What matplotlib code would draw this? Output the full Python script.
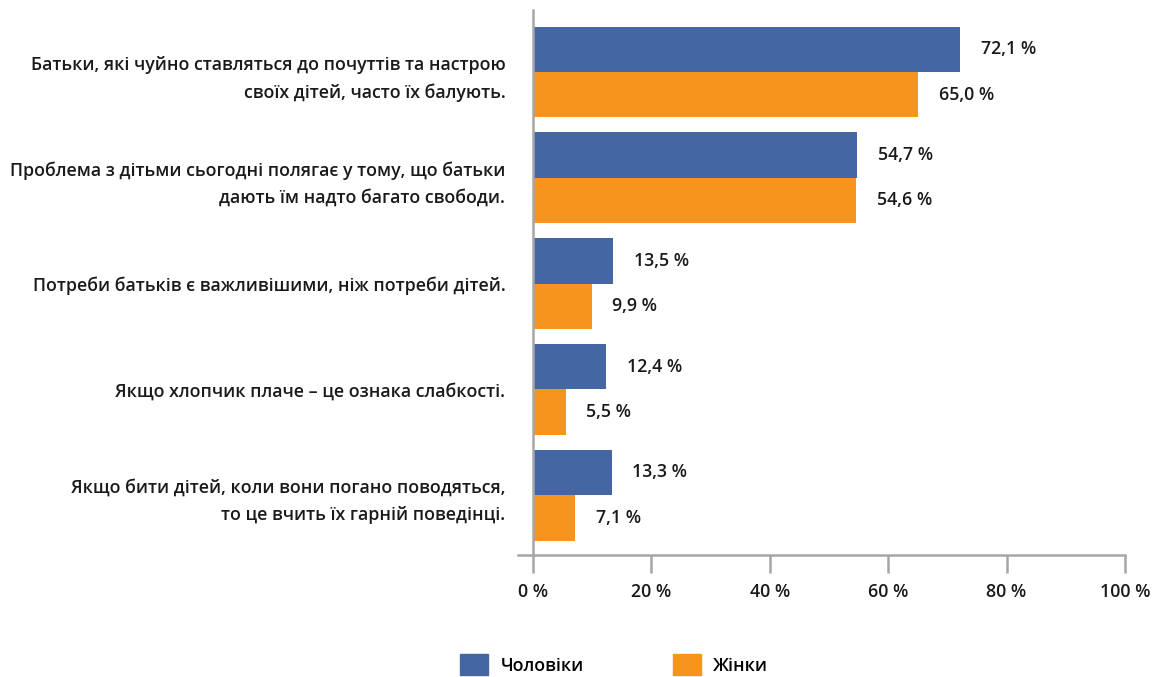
import numpy as np
import matplotlib.pyplot as plt
from matplotlib.patches import Patch

plt.rcParams['font.family'] = ['Open Sans', 'DejaVu Sans']

categories = [
    'Батьки, які чуйно ставляться до почуттів та настрою\nсвоїх дітей, часто їх балують.',
    'Проблема з дітьми сьогодні полягає у тому, що батьки\nдають їм надто багато свободи.',
    'Потреби батьків є важливішими, ніж потреби дітей.',
    'Якщо хлопчик плаче – це ознака слабкості.',
    'Якщо бити дітей, коли вони погано поводяться,\nто це вчить їх гарній поведінці.',
]
men = [72.1, 54.7, 13.5, 12.4, 13.3]
women = [65.0, 54.6, 9.9, 5.5, 7.1]
series_names = ['Чоловіки', 'Жінки']
ticks = [0, 20, 40, 60, 80, 100]

blue = '#4467a3'
orange = '#f7941d'
grey = '#a6a6a6'
fs = 12.8
fw = 'semibold'

fig = plt.figure(figsize=(11.53, 6.77), dpi=100)
ax = fig.add_axes([0.4623, 0.1802, 0.5134, 0.805])

y = np.arange(len(categories))
h = 0.43
ax.barh(y - h / 2, men, height=h, color=blue)
ax.barh(y + h / 2, women, height=h, color=orange)

for yi, v in zip(y - h / 2, men):
    ax.text(v + 3.5, yi, f'{v:.1f} %'.replace('.', ','), va='center', ha='left',
            fontsize=fs, fontweight=fw, color='#1a1a1a')
for yi, v in zip(y + h / 2, women):
    ax.text(v + 3.5, yi, f'{v:.1f} %'.replace('.', ','), va='center', ha='left',
            fontsize=fs, fontweight=fw, color='#1a1a1a')

ax.set_xlim(0, 100)
ax.set_ylim(4.567, -0.586)
ax.set_xticks(ticks)
ax.set_xticklabels([f'{t} %' for t in ticks], fontsize=fs, fontweight=fw, color='#1a1a1a')
ax.set_yticks(y)
ax.set_yticklabels(categories, fontsize=fs, fontweight=fw, linespacing=1.65, color='#1a1a1a')
ax.tick_params(axis='y', length=0, pad=20)
ax.tick_params(axis='x', length=13, width=1.8, color=grey, pad=7)

for s in ['top', 'right']:
    ax.spines[s].set_visible(False)
ax.spines['left'].set_color(grey)
ax.spines['left'].set_linewidth(1.8)
ax.spines['bottom'].set_color(grey)
ax.spines['bottom'].set_linewidth(1.8)
ax.spines['bottom'].set_bounds(-2.5, 100)

handles = [Patch(color=blue), Patch(color=orange)]
fig.legend(handles, series_names, loc='center', bbox_to_anchor=(0.5325, 0.018),
           ncol=2, frameon=False, handlelength=1.6, handleheight=1.45,
           columnspacing=5, handletextpad=0.7, prop={'size': fs, 'weight': fw})

fig.savefig('out.png', dpi=100)
